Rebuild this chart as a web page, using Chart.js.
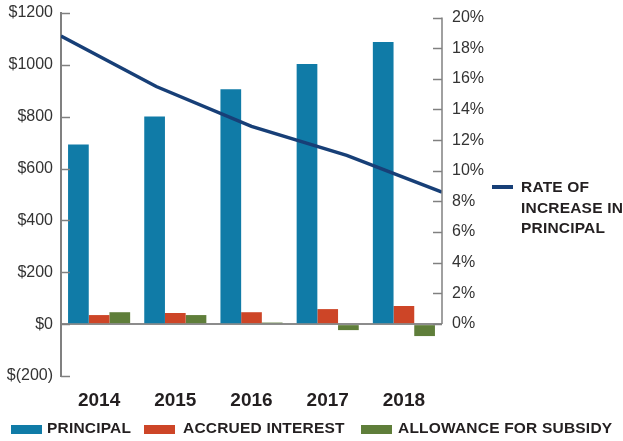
<!DOCTYPE html>
<html>
<head>
<meta charset="utf-8">
<script src="https://cdn.jsdelivr.net/npm/chart.js@4"></script>
<style>
  body { margin: 0; background: #fff; font-family: "Liberation Sans", Arial, sans-serif; }
  #wrap { position: relative; width: 623px; height: 441px; }
  canvas { position: absolute; left: 0; top: 0; }
  .lg { position: absolute; font-weight: bold; font-size: 15.5px; letter-spacing: 0.2px; color: #231f20; white-space: nowrap; }
  .sw { position: absolute; top: 425px; height: 9px; width: 31px; }
</style>
</head>
<body>
<div id="wrap">
  <canvas id="chart" width="623" height="441"></canvas>

  <div class="sw" style="left:11px;background:#107ba7"></div>
  <div class="lg" style="left:47px;top:419px">PRINCIPAL</div>
  <div class="sw" style="left:144px;background:#cd4527"></div>
  <div class="lg" style="left:183px;top:419px">ACCRUED INTEREST</div>
  <div class="sw" style="left:361px;background:#5f7e3a"></div>
  <div class="lg" style="left:398px;top:419px">ALLOWANCE FOR SUBSIDY</div>

  <div style="position:absolute;left:492px;top:185px;width:21px;height:4px;background:#173f77"></div>
  <div class="lg" style="left:521px;top:177px;line-height:20.5px">RATE OF<br>INCREASE IN<br>PRINCIPAL</div>
</div>

<script>
// data
const years = ['2014', '2015', '2016', '2017', '2018'];
const principal = [693, 801, 906, 1003, 1088];
const accruedInterest = [35, 43, 46, 58, 70];
const allowanceForSubsidy = [46, 35, 6, -23, -46];
const rateOfIncrease = [18.8, 15.5, 12.9, 11.0, 8.6];
const percentTicks = [0, 2, 4, 6, 8, 10, 12, 14, 16, 18, 20];

const tickColor = '#808080';

// one linear x axis: bars sit on 0..4, the rate line runs edge to edge (-0.5 .. 4.5)
const toBars = arr => arr.map((v, i) => ({ x: i, y: v }));
const linePos = i => -0.5 + i * (years.length / (rateOfIncrease.length - 1));
const ratePoints = rateOfIncrease.map((v, i) => ({ x: linePos(i), y: v }));

// short inward tick marks + right axis line (0% .. 20%)
const axisMarks = {
  id: 'axisMarks',
  afterDraw(chart) {
    const ctx = chart.ctx;
    const area = chart.chartArea;
    const yl = chart.scales.y;
    const yr = chart.scales.y1;
    ctx.save();
    ctx.strokeStyle = tickColor;
    ctx.lineWidth = 1.5;
    yl.ticks.forEach(t => {
      const py = Math.round(yl.getPixelForValue(t.value)) + 0.5;
      ctx.beginPath();
      ctx.moveTo(area.left, py);
      ctx.lineTo(area.left + 9, py);
      ctx.stroke();
    });
    yr.ticks.forEach(t => {
      const py = Math.round(yr.getPixelForValue(t.value)) + 0.5;
      ctx.beginPath();
      ctx.moveTo(area.right - 9, py);
      ctx.lineTo(area.right, py);
      ctx.stroke();
    });
    ctx.beginPath();
    ctx.moveTo(area.right, yr.getPixelForValue(20));
    ctx.lineTo(area.right, yr.getPixelForValue(0));
    ctx.stroke();
    ctx.restore();
  }
};

const noPad = s => { s.paddingTop = 0; s.paddingBottom = 0; };

new Chart(document.getElementById('chart'), {
  type: 'bar',
  data: {
    datasets: [
      { label: 'PRINCIPAL', data: toBars(principal), backgroundColor: '#107ba7', yAxisID: 'y', order: 1 },
      { label: 'ACCRUED INTEREST', data: toBars(accruedInterest), backgroundColor: '#cd4527', yAxisID: 'y', order: 1 },
      { label: 'ALLOWANCE FOR SUBSIDY', data: toBars(allowanceForSubsidy), backgroundColor: '#5f7e3a', yAxisID: 'y', order: 1 },
      {
        type: 'line',
        label: 'RATE OF INCREASE IN PRINCIPAL',
        data: ratePoints,
        yAxisID: 'y1',
        borderColor: '#173f77',
        borderWidth: 3.5,
        pointRadius: 0,
        tension: 0,
        order: 0
      }
    ]
  },
  options: {
    responsive: false,
    animation: false,
    layout: { padding: { top: 13, right: 121, bottom: 31, left: 0 } },
    datasets: {
      bar: { categoryPercentage: 0.815, barPercentage: 1 }
    },
    scales: {
      x: {
        type: 'linear',
        min: -0.5,
        max: 4.5,
        offset: false,
        afterBuildTicks: s => { s.ticks = years.map((y, i) => ({ value: i })); },
        grid: { display: false },
        border: { display: false },
        ticks: {
          color: '#231f20',
          padding: 5,
          font: { family: 'Liberation Sans', size: 19, weight: 'bold' },
          callback: v => years[v]
        },
        afterFit: s => { s.height = 34; s.paddingLeft = 0; s.paddingRight = 0; }
      },
      y: {
        position: 'left',
        min: -200,
        max: 1200,
        ticks: {
          stepSize: 200,
          padding: 8,
          color: '#333',
          font: { family: 'Liberation Sans', size: 16 },
          callback: v => v < 0 ? '$(' + (-v) + ')' : '$' + v
        },
        grid: {
          drawTicks: false,
          lineWidth: 2,
          color: c => c.tick && c.tick.value === 0 ? '#8c8c8c' : 'rgba(0,0,0,0)'
        },
        border: { display: true, color: tickColor, width: 2 },
        afterFit: s => { s.width = 61; noPad(s); }
      },
      y1: {
        position: 'right',
        min: -3.4,
        max: 20.3,
        afterBuildTicks: s => { s.ticks = percentTicks.map(v => ({ value: v })); },
        ticks: {
          padding: 10,
          color: '#333',
          font: { family: 'Liberation Sans', size: 16 },
          callback: v => v + '%'
        },
        grid: { display: false, drawTicks: false },
        border: { display: false },
        afterFit: s => { s.width = 60; noPad(s); }
      }
    },
    plugins: {
      legend: { display: false },
      tooltip: { enabled: false }
    }
  },
  plugins: [axisMarks]
});
</script>
</body>
</html>
